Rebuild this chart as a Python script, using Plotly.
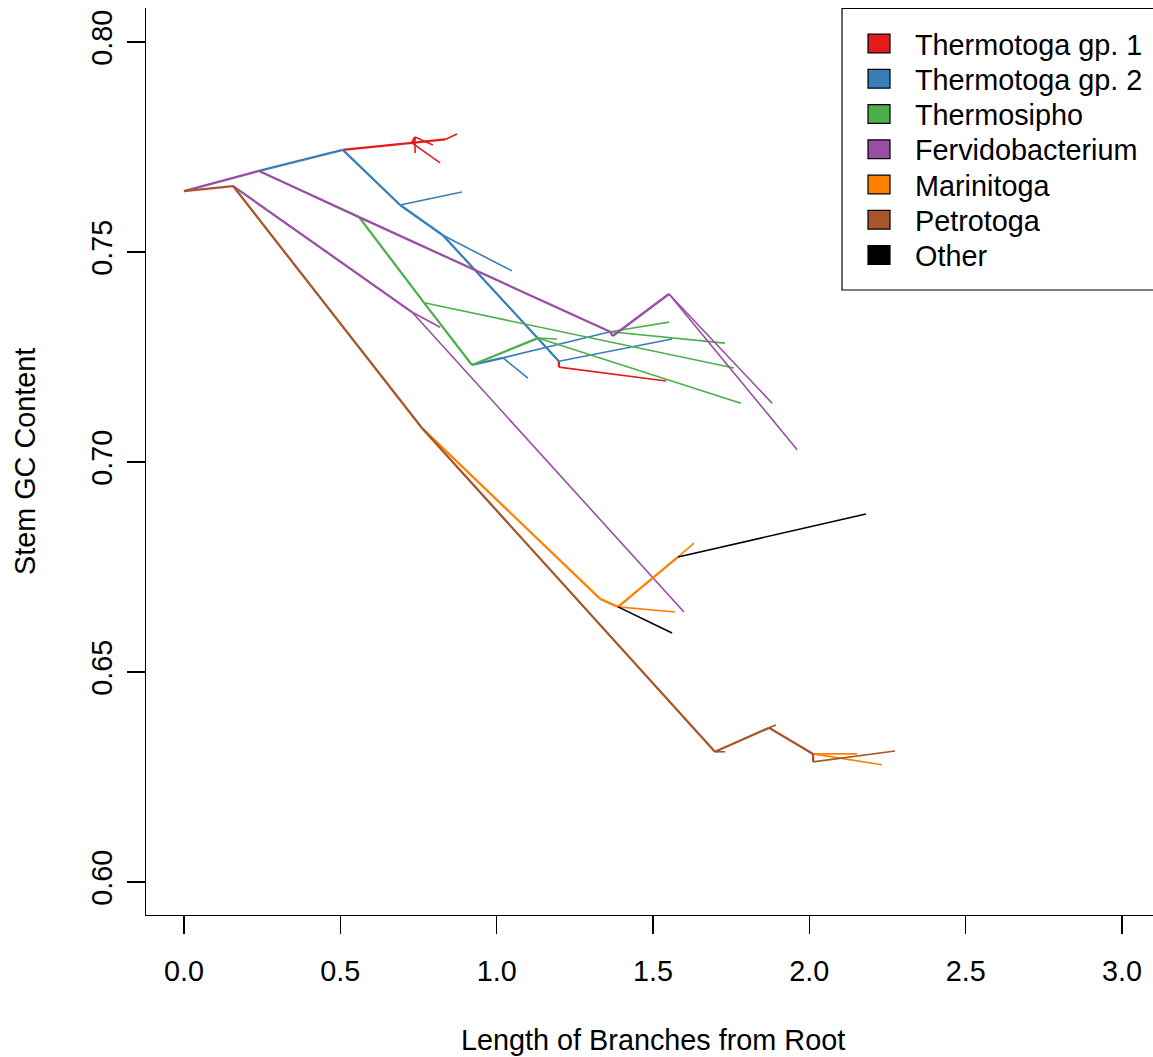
import plotly.graph_objects as go

# ---- data: tree nodes (distance from root, stem GC content) ----
node_id = ["root", "A", "P1", "B", "R1", "R2", "t1a", "t1b", "R3", "t1c", "t1d",
           "BN1", "t2a", "BN2", "t2b", "BN3", "RN", "t1e", "t2c",
           "G0", "G3", "tsa", "G1", "G2", "tsb", "tsc", "X", "t2d", "t2e",
           "PN2", "tsd", "tse", "PN3", "PN4", "tfa", "tfb",
           "PA", "tfc", "tfd",
           "O1", "O2", "O3", "tka", "tma", "O4", "tmb", "tkb",
           "BR1", "tpa", "BR2", "tpb", "BR3", "BR4", "tpc", "tmc", "tmd"]
parent = [None, "root", "root", "P1", "B", "R1", "R2", "R2", "R1", "R3", "R1",
          "B", "BN1", "BN1", "BN2", "BN2", "BN3", "RN", "BN3",
          "P1", "G0", "G3", "G3", "G1", "G2", "G2", "G1", "X", "X",
          "G0", "PN2", "PN2", "PN2", "PN3", "PN4", "PN4",
          "A", "PA", "PA",
          "A", "O1", "O2", "O3", "O3", "O3", "O4", "O4",
          "O1", "BR1", "BR1", "BR2", "BR2", "BR3", "BR4", "BR3", "BR3"]
dist = [0.000, 0.157, 0.240, 0.508, 0.729, 0.739, 0.739, 0.796, 0.835, 0.873, 0.819,
        0.691, 0.889, 0.828, 1.049, 1.199, 1.199, 1.542, 1.561,
        0.560, 0.768, 1.759, 0.921, 1.132, 1.193, 1.781, 1.020, 1.100, 1.363,
        1.363, 1.551, 1.730, 1.371, 1.551, 1.881, 1.961,
        0.729, 0.819, 1.599,
        0.761, 1.331, 1.388, 1.561, 1.570, 1.580, 1.631, 2.181,
        1.698, 1.730, 1.871, 1.893, 2.012, 2.012, 2.274, 2.152, 2.232]
gc = [0.7645, 0.7657, 0.7693, 0.7743, 0.7760, 0.7774, 0.7736, 0.7755, 0.7768, 0.7781, 0.7712,
      0.7612, 0.7643, 0.7540, 0.7455, 0.7240, 0.7226, 0.7193, 0.7293,
      0.7583, 0.7379, 0.7224, 0.7231, 0.7295, 0.7293, 0.7140, 0.7248, 0.7200, 0.7310,
      0.7310, 0.7333, 0.7283, 0.7300, 0.7400, 0.7140, 0.7029,
      0.7357, 0.7321, 0.6643,
      0.7081, 0.6674, 0.6655, 0.6593, 0.6643, 0.6774, 0.6807, 0.6876,
      0.6310, 0.6310, 0.6367, 0.6374, 0.6305, 0.6286, 0.6312, 0.6305, 0.6279]
T1, T2, TS, FV, MA, PE, OT = ("Thermotoga gp. 1", "Thermotoga gp. 2", "Thermosipho",
                              "Fervidobacterium", "Marinitoga", "Petrotoga", "Other")
group = [None, PE, FV, T2, T1, T1, T1, T1, T1, T1, T1,
         T2, T2, T2, T2, T2, T1, T1, T2,
         FV, TS, TS, TS, TS, TS, TS, T2, T2, T2,
         FV, TS, TS, FV, FV, FV, FV,
         FV, FV, FV,
         PE, MA, MA, OT, MA, MA, MA, OT,
         PE, PE, PE, PE, PE, PE, PE, MA, MA]

# legend
legend_names = [T1, T2, TS, FV, MA, PE, OT]
legend_colors = ["#E41A1C", "#377EB8", "#4DAF4A", "#984EA3", "#FF7F00", "#A65628", "#000000"]

x_ticks = [0.0, 0.5, 1.0, 1.5, 2.0, 2.5, 3.0]
x_ticktext = ["0.0", "0.5", "1.0", "1.5", "2.0", "2.5", "3.0"]
y_ticks = [0.60, 0.65, 0.70, 0.75, 0.80]
y_ticktext = ["0.60", "0.65", "0.70", "0.75", "0.80"]

# ---- build figure ----
FONT = "Liberation Sans, Arial, Helvetica, sans-serif"
FS = 28.8
idx = {n: i for i, n in enumerate(node_id)}
color_of = dict(zip(legend_names, legend_colors))
is_internal = {n: False for n in node_id}
for p in parent:
    if p is not None:
        is_internal[p] = True

fig = go.Figure()
for name in legend_names:
    for internal in (True, False):
        xs, ys = [], []
        for i, n in enumerate(node_id):
            p = parent[i]
            if p is None or group[i] != name or is_internal[n] != internal:
                continue
            j = idx[p]
            xs += [dist[j], dist[i], None]
            ys += [gc[j], gc[i], None]
        if xs:
            fig.add_trace(go.Scatter(x=xs, y=ys, mode="lines",
                                     line=dict(color=color_of[name], width=2.3 if internal else 1.6),
                                     hoverinfo="skip", showlegend=False))

W, H = 1153, 1057
L, R, T, B = 146, 0, 8, 142
pw, ph = W - L - R, H - T - B


def px_x(px):
    return (px - L) / pw


def px_y(py):
    return (H - B - py) / ph


shapes = [dict(type="rect", xref="paper", yref="paper",
               x0=px_x(842), x1=px_x(1175), y0=px_y(290), y1=px_y(8.5),
               line=dict(color="black", width=1.2), fillcolor="white", layer="above")]
annotations = []
row0, step = 43.5, 35.25
for k, (name, col) in enumerate(zip(legend_names, legend_colors)):
    cy = row0 + k * step
    shapes.append(dict(type="rect", xref="paper", yref="paper",
                       x0=px_x(868), x1=px_x(890), y0=px_y(cy + 9.3), y1=px_y(cy - 9.3),
                       line=dict(color="black", width=1.2), fillcolor=col, layer="above"))
    annotations.append(dict(xref="paper", yref="paper", x=px_x(913), y=px_y(cy + 1),
                            text=name, showarrow=False, xanchor="left", yanchor="middle",
                            font=dict(family=FONT, size=FS, color="black")))

annotations.append(dict(xref="paper", yref="paper", x=px_x(653), y=px_y(1040),
                        text="Length of Branches from Root", showarrow=False,
                        xanchor="center", yanchor="middle",
                        font=dict(family=FONT, size=FS, color="black")))
annotations.append(dict(xref="paper", yref="paper", x=px_x(25), y=px_y(462),
                        text="Stem GC Content", showarrow=False, textangle=-90,
                        xanchor="center", yanchor="middle",
                        font=dict(family=FONT, size=FS, color="black")))

axis_common = dict(showline=True, linecolor="black", linewidth=1.2, ticks="outside",
                   ticklen=18, tickwidth=1.2, tickcolor="black", showgrid=False,
                   zeroline=False, mirror=False,
                   tickfont=dict(family=FONT, size=FS, color="black"))

fig.update_layout(
    width=W, height=H,
    margin=dict(l=L, r=R, t=T, b=B, pad=0),
    paper_bgcolor="white", plot_bgcolor="white",
    xaxis=dict(range=[-0.1215, 3.099], tickvals=x_ticks, ticktext=x_ticktext,
               ticklabelstandoff=12, **axis_common),
    yaxis=dict(range=[0.59214, 0.8081], tickvals=y_ticks, ticktext=y_ticktext,
               tickangle=-90, ticklabelstandoff=3, **axis_common),
    shapes=shapes, annotations=annotations, showlegend=False,
)

fig.write_html("out.html",
               config={"displayModeBar": False, "staticPlot": True},
               post_script="document.body.style.margin='0';"
                           "document.body.style.overflow='hidden';")
